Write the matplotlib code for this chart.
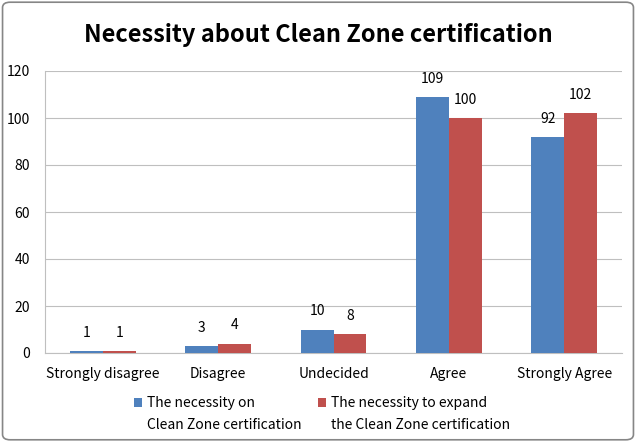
import matplotlib
matplotlib.use("Agg")
import matplotlib.pyplot as plt
from matplotlib.patches import FancyBboxPatch
import numpy as np

plt.rcParams['font.family'] = ['Noto Sans CJK KR', 'DejaVu Sans']

categories = ["Strongly disagree", "Disagree", "Undecided", "Agree", "Strongly Agree"]
necessity_on = [1, 3, 10, 109, 92]
necessity_expand = [1, 4, 8, 100, 102]
series_labels = [("The necessity on", "Clean Zone certification"),
                 ("The necessity to expand", "the Clean Zone certification")]
yticks = [0, 20, 40, 60, 80, 100, 120]

blue = "#4F81BD"
red = "#C0504D"

fig = plt.figure(figsize=(6.36, 4.42), dpi=100)
ax = fig.add_axes([45/636, 1-353/442, 577/636, 282/442])

x = np.arange(len(categories))
w = 0.285
b1 = ax.bar(x - w/2, necessity_on, w, color=blue, zorder=3)
b2 = ax.bar(x + w/2, necessity_expand, w, color=red, zorder=3)

for bars, vals in ((b1, necessity_on), (b2, necessity_expand)):
    for r, v in zip(bars, vals):
        ax.annotate(str(v), (r.get_x() + r.get_width()/2, v), xytext=(0, 8),
                    textcoords="offset points", ha="center", va="bottom", fontsize=10)

ax.set_xlim(-0.5, len(categories) - 0.5)
ax.set_ylim(0, 120)
ax.set_yticks(yticks)
ax.set_xticks(x)
ax.set_xticklabels(categories, fontsize=10)
ax.tick_params(axis='y', labelsize=10, length=0, pad=11)
ax.tick_params(axis='x', length=0, pad=10)
ax.yaxis.grid(True, color="#BFBFBF", linewidth=0.8, zorder=0)
for s in ("top", "right"):
    ax.spines[s].set_visible(False)
ax.spines["left"].set_color("#BFBFBF")
ax.spines["bottom"].set_color("#BFBFBF")

fig.text(0.5, 1-35/442, "Necessity about Clean Zone certification", ha="center", va="center",
         fontsize=17, fontweight="bold")

legends = []
for handle, lab, xa in ((b1, series_labels[0], 134/636), (b2, series_labels[1], 318/636)):
    lg = fig.legend(handles=[handle], labels=[lab[0]], loc="center left",
                    bbox_to_anchor=(xa, 1-403/442), frameon=False, fontsize=10,
                    handlelength=0.6, handleheight=0.6, handletextpad=0.35,
                    borderaxespad=0, borderpad=0)
    legends.append((lg, lab))

fig.canvas.draw()
inv = fig.transFigure.inverted()
for lg, lab in legends:
    bb = lg.get_texts()[0].get_window_extent()
    x0, _ = inv.transform((bb.x0, bb.y0))
    fig.text(x0, 1-425/442, lab[1], ha="left", va="center", fontsize=10)

border = FancyBboxPatch((0.004, 0.005), 0.992, 0.99, boxstyle="round,pad=0,rounding_size=0.012",
                        transform=fig.transFigure, fill=False, edgecolor="#868686", linewidth=1.2)
fig.patches.append(border)

fig.savefig("out.png", dpi=100)
